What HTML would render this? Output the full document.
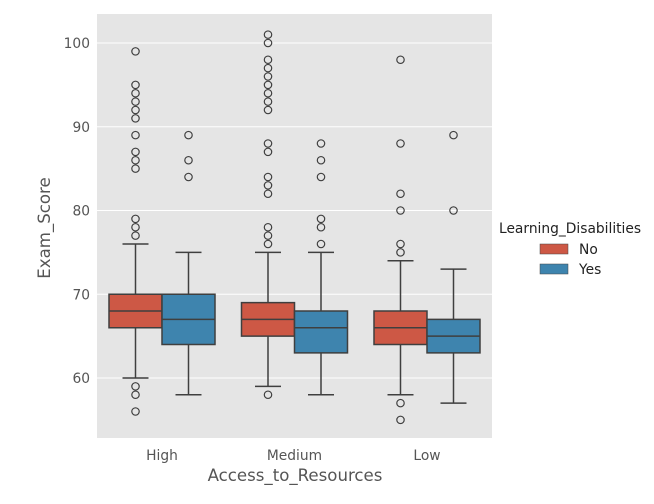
<!DOCTYPE html>
<html><head><meta charset="utf-8"><style>
body{margin:0;background:#fff;font-family:"DejaVu Sans",sans-serif}
</style></head><body>
<svg width="654" height="500" xmlns="http://www.w3.org/2000/svg" font-family="DejaVu Sans, sans-serif">
<rect x="97" y="14" width="395" height="424" fill="#e5e5e5"/>
<g id="grid"></g><g id="marks"></g><g id="axes"></g>
<text x="295" y="481" text-anchor="middle" font-size="16.6" fill="#555">Access_to_Resources</text>
<text transform="translate(50,228) rotate(-90)" text-anchor="middle" font-size="16.6" fill="#555">Exam_Score</text>
<g>
<text x="499" y="233" font-size="13.8" fill="#222">Learning_Disabilities</text>
<g><rect x="540" y="244" width="28" height="10" fill="#cd5845" stroke="#444" stroke-width="0.5"/><text x="579" y="254" font-size="13.8" fill="#222">No</text></g>
<g><rect x="540" y="264" width="28" height="10" fill="#3e84ae" stroke="#444" stroke-width="0.5"/><text x="579" y="274" font-size="13.8" fill="#222">Yes</text></g>
</g>
</svg>
<script>
const categories=["High","Medium","Low"];
const hues=["No","Yes"];
const q1=[[66,64],[65,63],[64,63]];
const med=[[68,67],[67,66],[66,65]];
const q3=[[70,70],[69,68],[68,67]];
const wlo=[[60,58],[59,58],[58,57]];
const whi=[[76,75],[75,75],[74,73]];
const outliers=[
 [[99,95,94,93,92,91,89,87,86,85,79,78,77,59,58,56],[89,86,84]],
 [[101,100,98,97,96,95,94,93,92,88,87,84,83,82,78,77,76,58],[88,86,84,79,78,76]],
 [[98,88,82,80,76,75,57,55],[89,80]]
];
const yTicks=[60,70,80,90,100];
const colors=["#cd5845","#3e84ae"];
const NS="http://www.w3.org/2000/svg";
const y=v=>378-(v-60)*8.375;
const gx=i=>162+i*132.5;
const bw=53;
function mk(tag,attrs,parent){const e=document.createElementNS(NS,tag);for(const k in attrs)e.setAttribute(k,attrs[k]);parent.appendChild(e);return e;}
const grid=document.getElementById('grid'),marks=document.getElementById('marks'),axes=document.getElementById('axes');
yTicks.forEach(t=>{
 const l=mk('line',{x1:97,x2:492,y1:y(t),y2:y(t),stroke:'#fff','stroke-width':1},grid);
 
 
 const tx=mk('text',{x:90,y:y(t)+5,'text-anchor':'end','font-size':13.8,fill:'#555'},axes);
 tx.textContent=t;
 
 
});
categories.forEach((c,i)=>{
 const tx=mk('text',{x:gx(i),y:460,'text-anchor':'middle','font-size':13.8,fill:'#555'},axes);
 tx.textContent=c;
 
 
 hues.forEach((h,j)=>{
  const cx=gx(i)+(j===0?-bw/2:bw/2);
  const g=mk('g',{},marks);
  
  
  const st={stroke:'#3f3f3f','stroke-width':1.5};
  mk('line',Object.assign({x1:cx,x2:cx,y1:y(whi[i][j]),y2:y(q3[i][j])},st),g);
  mk('line',Object.assign({x1:cx,x2:cx,y1:y(q1[i][j]),y2:y(wlo[i][j])},st),g);
  mk('line',Object.assign({x1:cx-13,x2:cx+13,y1:y(whi[i][j]),y2:y(whi[i][j])},st),g);
  mk('line',Object.assign({x1:cx-13,x2:cx+13,y1:y(wlo[i][j]),y2:y(wlo[i][j])},st),g);
  mk('rect',Object.assign({x:cx-bw/2,y:y(q3[i][j]),width:bw,height:y(q1[i][j])-y(q3[i][j]),fill:colors[j]},st),g);
  mk('line',Object.assign({x1:cx-bw/2,x2:cx+bw/2,y1:y(med[i][j]),y2:y(med[i][j])},st),g);
  outliers[i][j].forEach(v=>{
   const o=mk('circle',{cx:cx,cy:y(v),r:3.7,fill:'none',stroke:'#3f3f3f','stroke-width':1.2},g);
   
   
  });
 });
});
</script>
</body></html>
